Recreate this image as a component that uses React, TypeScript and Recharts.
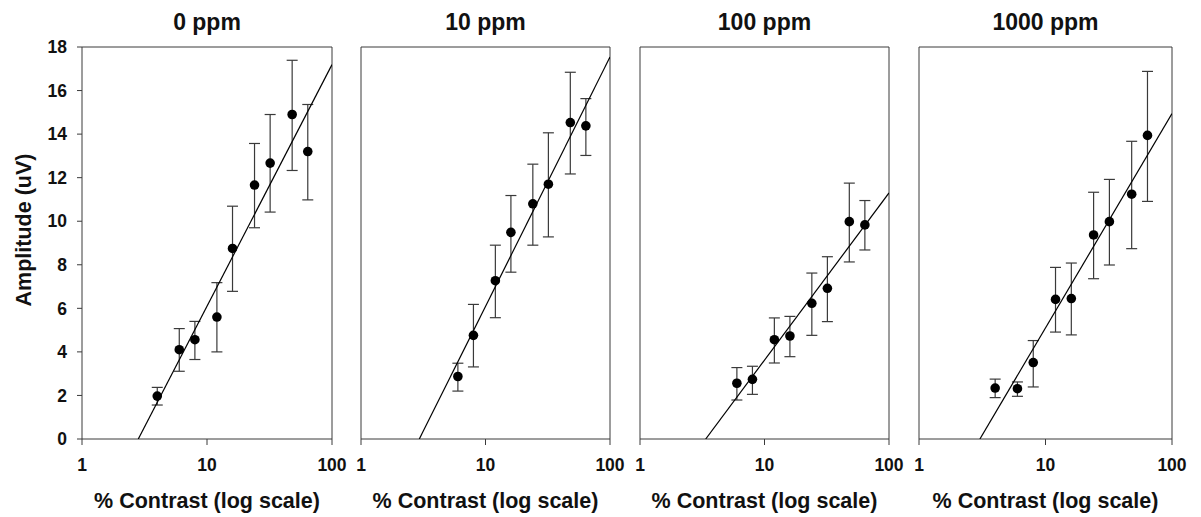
import {
  ScatterChart,
  Scatter,
  XAxis,
  YAxis,
  ErrorBar,
  ReferenceLine,
} from 'recharts'

// % contrast levels (log scale)
const CONTRAST = [4, 6, 8, 12, 16, 24, 32, 48, 64]

// 0 ppm
const AMP_0 = [1.97, 4.1, 4.56, 5.6, 8.75, 11.66, 12.67, 14.9, 13.2]
const LO_0 = [1.56, 3.11, 3.65, 4.0, 6.78, 9.7, 10.42, 12.33, 10.98]
const HI_0 = [2.37, 5.07, 5.4, 7.18, 10.69, 13.57, 14.9, 17.39, 15.36]

// 10 ppm (no 4% point)
const AMP_10 = [null, 2.87, 4.76, 7.27, 9.49, 10.8, 11.7, 14.53, 14.38]
const LO_10 = [null, 2.2, 3.31, 5.57, 7.66, 8.9, 9.28, 12.17, 13.02]
const HI_10 = [null, 3.48, 6.18, 8.9, 11.18, 12.62, 14.06, 16.84, 15.63]

// 100 ppm (no 4% point)
const AMP_100 = [null, 2.56, 2.74, 4.56, 4.73, 6.23, 6.92, 9.98, 9.83]
const LO_100 = [null, 1.79, 2.05, 3.49, 3.78, 4.76, 5.39, 8.13, 8.68]
const HI_100 = [null, 3.28, 3.34, 5.56, 5.63, 7.62, 8.37, 11.75, 10.95]

// 1000 ppm
const AMP_1000 = [2.34, 2.31, 3.51, 6.41, 6.45, 9.37, 9.98, 11.24, 13.94]
const LO_1000 = [1.9, 1.96, 2.39, 4.91, 4.78, 7.36, 7.99, 8.74, 10.91]
const HI_1000 = [2.75, 2.62, 4.52, 7.88, 8.08, 11.33, 11.92, 13.67, 16.88]

// regression lines: x where amplitude hits 0, amplitude at 100%
const FIT_X0 = [2.82, 2.94, 3.37, 3.03]
const FIT_Y100 = [17.19, 17.54, 11.3, 14.94]

const TITLES = ['0 ppm', '10 ppm', '100 ppm', '1000 ppm']
const X_TICKS = [1, 10, 100]
const Y_TICKS = [0, 2, 4, 6, 8, 10, 12, 14, 16, 18]

const FONT = '"Liberation Sans", Arial, sans-serif'
const AXIS = '#3a3a3a'
const INK = '#111'

const LAYOUT = [
  { left: 0, yWidth: 82, width: 352 },
  { left: 331, yWidth: 30, width: 299 },
  { left: 610, yWidth: 30, width: 299 },
  { left: 889, yWidth: 30, width: 303 },
]

const SERIES = [
  [AMP_0, LO_0, HI_0],
  [AMP_10, LO_10, HI_10],
  [AMP_100, LO_100, HI_100],
  [AMP_1000, LO_1000, HI_1000],
]

function buildPoints(amp: (number | null)[], lo: (number | null)[], hi: (number | null)[]) {
  const pts: { x: number; y: number; err: [number, number] }[] = []
  CONTRAST.forEach((c, i) => {
    const y = amp[i]
    if (y == null) return
    pts.push({ x: c, y, err: [y - (lo[i] as number), (hi[i] as number) - y] })
  })
  return pts
}

const Dot = (props: any) => <circle cx={props.cx} cy={props.cy} r={4.8} fill="#000" />
const NoDot = () => <g />

function Panel({ idx }: { idx: number }) {
  const { left, yWidth, width } = LAYOUT[idx]
  const [amp, lo, hi] = SERIES[idx]
  const points = buildPoints(amp, lo, hi)
  const fit = [
    { x: FIT_X0[idx], y: 0 },
    { x: 100, y: FIT_Y100[idx] },
  ]
  const first = idx === 0

  return (
    <div style={{ position: 'absolute', left, top: 0 }}>
      <ScatterChart
        width={width}
        height={517}
        margin={{ top: 47, right: 20, bottom: 0, left: 0 }}
        style={{ fontFamily: FONT }}
      >
        <XAxis
          type="number"
          dataKey="x"
          scale="log"
          domain={[1, 100]}
          ticks={X_TICKS}
          allowDataOverflow
          height={78}
          tickSize={6}
          tickMargin={14}
          stroke={AXIS}
          tick={{ fontSize: 17.5, fontWeight: 'bold', fill: INK }}
          label={{
            value: '% Contrast (log scale)',
            position: 'insideBottom',
            offset: 9,
            style: { fontSize: 21.5, fontWeight: 'bold', fill: INK },
          }}
        />
        <YAxis
          type="number"
          dataKey="y"
          domain={[0, 18]}
          ticks={Y_TICKS}
          allowDataOverflow
          width={yWidth}
          tickSize={5}
          tickMargin={10}
          stroke={AXIS}
          tick={first ? { fontSize: 17.5, fontWeight: 'bold', fill: INK } : false}
          label={
            first
              ? {
                  content: () => (
                    <text
                      x={24}
                      y={230}
                      transform="rotate(-90 24 230)"
                      textAnchor="middle"
                      dominantBaseline="central"
                      style={{ fontSize: 21.5, fontWeight: 'bold', fill: INK, fontFamily: FONT }}
                    >
                      Amplitude (uV)
                    </text>
                  ),
                }
              : undefined
          }
        />
        <ReferenceLine
          y={18}
          stroke={AXIS}
          label={{
            value: TITLES[idx],
            position: 'top',
            offset: 17,
            style: { fontSize: 23, fontWeight: 'bold', fill: INK },
          }}
        />
        <ReferenceLine x={100} stroke={AXIS} />
        <Scatter
          data={fit}
          line={{ stroke: '#000', strokeWidth: 1.2 }}
          shape={NoDot}
          isAnimationActive={false}
        />
        <Scatter data={points} shape={Dot} isAnimationActive={false}>
          <ErrorBar dataKey="err" direction="y" width={5.5} stroke={AXIS} strokeWidth={1.2} />
        </Scatter>
      </ScatterChart>
    </div>
  )
}

export default function App() {
  return (
    <div style={{ position: 'absolute', left: 0, top: 0, width: 1201, height: 517, background: '#fff' }}>
      {TITLES.map((t, i) => (
        <Panel key={t} idx={i} />
      ))}
    </div>
  )
}
